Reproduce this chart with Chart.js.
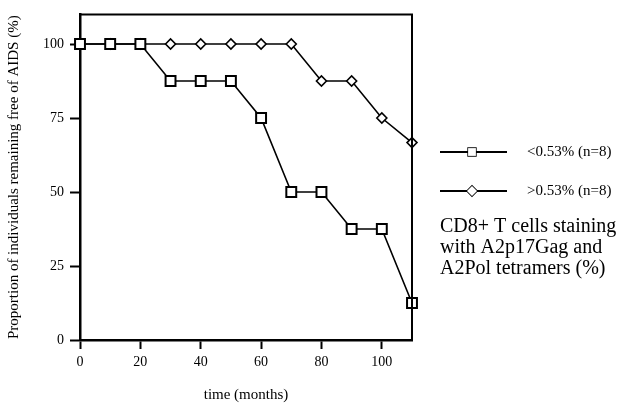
<!DOCTYPE html>
<html>
<head>
<meta charset="utf-8">
<script src="https://cdn.jsdelivr.net/npm/chart.js@4.4.1/dist/chart.umd.min.js"></script>
<style>
  html, body { margin: 0; padding: 0; background: #fff; }
  #wrap { position: relative; width: 621px; height: 408px; }
</style>
</head>
<body>
<div id="wrap"><canvas id="surv" width="621" height="408"></canvas></div>
<script>
// data
const months = [0, 10, 20, 30, 40, 50, 60, 70, 80, 90, 100, 110];
const lowSeries = [100, 100, 100, 87.5, 87.5, 87.5, 75, 50, 50, 37.5, 37.5, 12.5];
const highSeries = [100, 100, 100, 100, 100, 100, 100, 100, 87.5, 87.5, 75, 66.7];
const xTicks = [0, 20, 40, 60, 80, 100];
const yTicks = [0, 25, 50, 75, 100];
const seriesLabels = ['<0.53% (n=8)', '>0.53% (n=8)'];
const captionLines = ['CD8+ T cells staining', 'with A2p17Gag and', 'A2Pol tetramers (%)'];

const serif = "'Liberation Serif', 'Times New Roman', serif";

function pts(vals) {
    return months.map(function (m, i) { return {x: m, y: vals[i]}; });
}

// box lines on top/right + the legend at the right side
const framePlugin = {
    id: 'frame',
    afterDraw(chart) {
        const {ctx, chartArea} = chart;
        ctx.save();
        ctx.strokeStyle = '#000';
        ctx.lineWidth = 2;
        ctx.beginPath();
        ctx.moveTo(chartArea.left, chartArea.top);
        ctx.lineTo(chartArea.right, chartArea.top);
        ctx.lineTo(chartArea.right, chartArea.bottom);
        ctx.stroke();

        // legend
        const rows = [152, 191];
        const styles = ['rect', 'rectRot'];
        const radii = [5.5, 5];
        rows.forEach(function (y, i) {
            ctx.lineWidth = 1.8;
            ctx.strokeStyle = '#000';
            ctx.beginPath();
            ctx.moveTo(440, y);
            ctx.lineTo(507, y);
            ctx.stroke();
            ctx.fillStyle = '#fff';
            ctx.lineWidth = 1.6;
            Chart.helpers.drawPoint(ctx, {pointStyle: styles[i], radius: radii[i], borderWidth: 1.6}, 472, y);
            ctx.fill();
            ctx.fillStyle = '#000';
            ctx.font = '15px ' + serif;
            ctx.textBaseline = 'middle';
            ctx.textAlign = 'left';
            ctx.fillText(seriesLabels[i], 527, y);
        });

        ctx.font = '20px ' + serif;
        ctx.textBaseline = 'alphabetic';
        captionLines.forEach(function (line, i) {
            ctx.fillText(line, 440, 232 + i * 21);
        });
        ctx.restore();
    }
};

Chart.defaults.font.family = serif;
Chart.defaults.color = '#000';
Chart.defaults.plugins.legend.display = false;

new Chart(document.getElementById('surv'), {
    type: 'line',
    data: {
        datasets: [
            {
                label: seriesLabels[0],
                data: pts(lowSeries),
                borderColor: '#000',
                borderWidth: 1.6,
                pointStyle: 'rect',
                pointRadius: 7,
                pointBorderWidth: 2,
                pointBackgroundColor: '#fff',
                pointBorderColor: '#000',
                clip: false
            },
            {
                label: seriesLabels[1],
                data: pts(highSeries),
                borderColor: '#000',
                borderWidth: 1.6,
                pointStyle: 'rectRot',
                pointRadius: 5,
                pointBorderWidth: 1.6,
                pointBackgroundColor: '#fff',
                pointBorderColor: '#000',
                clip: false
            }
        ]
    },
    options: {
        responsive: false,
        animation: false,
        layout: {padding: {top: 9, right: 209, left: 0, bottom: 0}},
        plugins: {tooltip: {enabled: false}},
        scales: {
            x: {
                type: 'linear',
                min: 0,
                max: 110,
                afterBuildTicks: function (axis) {
                    axis.ticks = xTicks.map(function (v) { return {value: v}; });
                },
                afterFit: function (axis) { axis.height = 68; },
                border: {display: true, color: '#000', width: 2.5},
                grid: {drawOnChartArea: false, drawTicks: true, tickLength: 9, color: '#000', tickWidth: 2},
                ticks: {font: {size: 14}, padding: 5, maxRotation: 0},
                title: {display: true, text: 'time (months)', font: {size: 15}, padding: {top: 7}}
            },
            y: {
                min: 0,
                max: 110,
                afterBuildTicks: function (axis) {
                    axis.ticks = yTicks.map(function (v) { return {value: v}; });
                },
                afterFit: function (axis) { axis.width = 80; },
                border: {display: true, color: '#000', width: 2.5},
                grid: {drawOnChartArea: false, drawTicks: true, tickLength: 10, color: '#000', tickWidth: 2},
                ticks: {font: {size: 14}, padding: 6},
                title: {display: true, text: 'Proportion of individuals remaining free of AIDS (%)', font: {size: 15}, padding: {top: 5}}
            }
        }
    },
    plugins: [framePlugin]
});
</script>
</body>
</html>
